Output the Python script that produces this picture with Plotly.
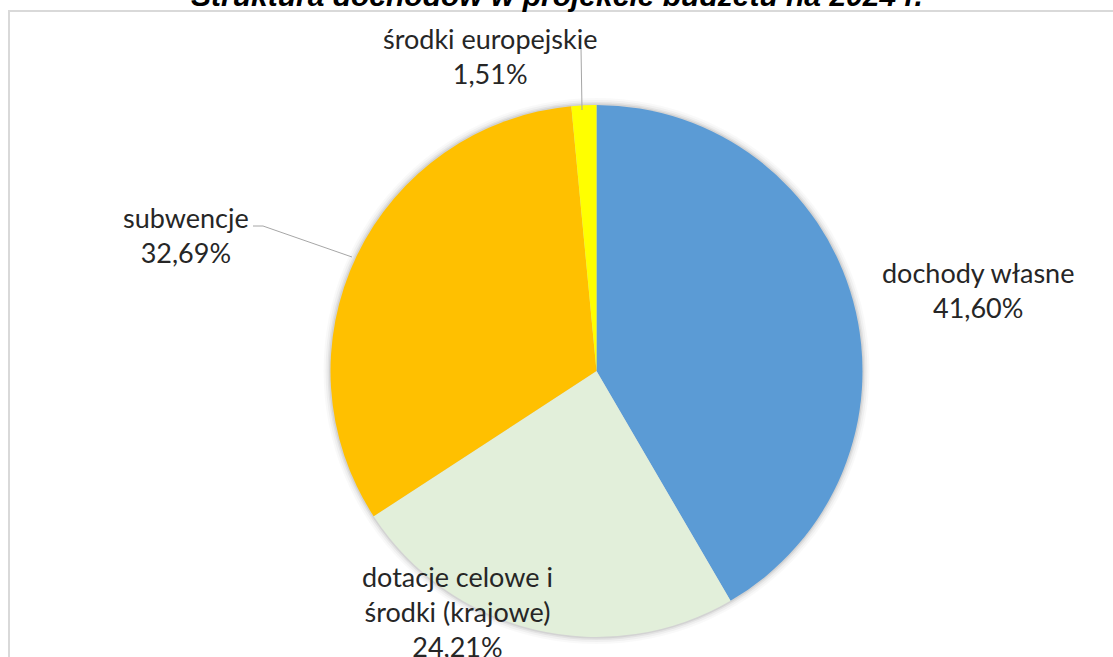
import plotly.graph_objects as go

W, H = 1113, 657

# Data
categories = ["dochody własne", "dotacje celowe i<br>środki (krajowe)", "subwencje", "środki europejskie"]
shares = [41.60, 24.21, 32.69, 1.51]
colors = ["#5B9BD5", "#E2EFDA", "#FFC000", "#FFFF00"]
title_text = "Struktura dochodów w projekcie budżetu na 2024 r."

# Layout geometry (reference pixels)
cx, cy, r = 596.5, 371, 266
label_pos = [(978, 290), (457, 611), (186, 235), (490, 56)]


def px(x):
    return x / W


def py(y):
    return 1 - y / H


def dom(rad):
    return dict(x=[px(cx - rad), px(cx + rad)], y=[py(cy + rad), py(cy - rad)])


fig = go.Figure()

# soft shadow layers
for k, a in [(7, 0.025), (5, 0.035), (3, 0.05), (1.5, 0.07)]:
    fig.add_trace(go.Pie(values=[1], labels=["s"], marker=dict(colors=[f"rgba(0,0,0,{a})"]),
                         domain=dom(r + k), textinfo="none", hoverinfo="skip",
                         showlegend=False, sort=False))

fig.add_trace(go.Pie(
    labels=categories, values=shares, sort=False, direction="clockwise", rotation=0,
    marker=dict(colors=colors, line=dict(width=0)),
    textinfo="none", showlegend=False, domain=dom(r),
))

annotations = []
for (lx, ly), cat, v in zip(label_pos, categories, shares):
    txt = f"{cat}<br>{v:.2f}%".replace(".", ",")
    annotations.append(dict(
        x=px(lx), y=py(ly), xref="paper", yref="paper", text=txt,
        showarrow=False, xanchor="center", yanchor="middle",
        font=dict(family="Lato", size=27, color="#262626"), align="center",
    ))

annotations.append(dict(
    x=px(557), y=py(14), xref="paper", yref="paper", text=f"<b><i>{title_text}</i></b>",
    showarrow=False, xanchor="center", yanchor="bottom",
    font=dict(family="Liberation Sans", size=30, color="#000000"),
))

shapes = [
    # chart-area border: only left and top edges are visible in the frame
    dict(type="path", xref="paper", yref="paper",
         path=f"M {px(9)} {py(700)} L {px(9)} {py(11)} L {px(1130)} {py(11)}",
         line=dict(color="#D9D9D9", width=2), layer="below"),
    dict(type="path", xref="paper", yref="paper",
         path=f"M {px(253)} {py(226)} L {px(263)} {py(226)} L {px(352)} {py(257)}",
         line=dict(color="#A6A6A6", width=1)),
    dict(type="path", xref="paper", yref="paper",
         path=f"M {px(581)} {py(48)} L {px(582)} {py(110)}",
         line=dict(color="#A6A6A6", width=1)),
]

fig.update_layout(
    width=W, height=H, margin=dict(l=0, r=0, t=0, b=0),
    paper_bgcolor="white", plot_bgcolor="white",
    annotations=annotations, shapes=shapes,
)

page_js = ("document.body.style.margin='0';"
           "document.body.style.overflow='hidden';"
           "document.documentElement.style.overflow='hidden';")

fig.write_html("out.html", post_script=page_js, config={"displayModeBar": False})
